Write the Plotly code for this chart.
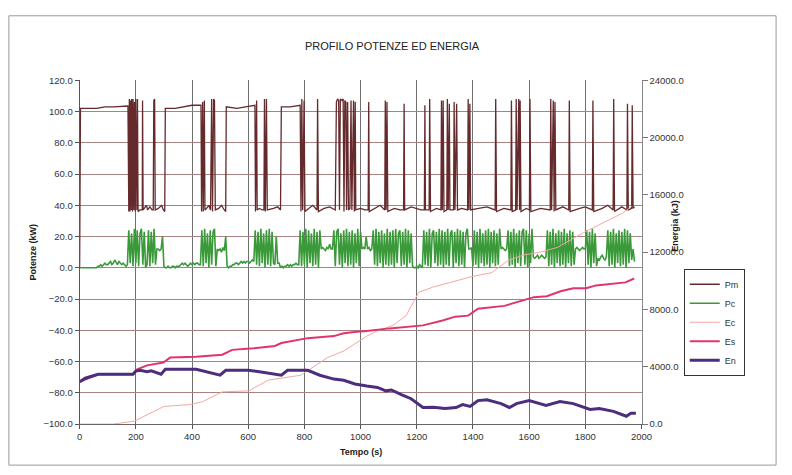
import plotly.graph_objects as go

# ---- Potenza motore Pm (kW): vertici (tempo s, valore) ----
pm_t = [0, 3, 60, 90, 120, 150, 172,
        175, 177, 179, 181, 183, 185, 188, 190, 193, 195, 198, 200, 204, 206, 208,
        215, 223, 224, 226, 230, 238, 242, 250, 258, 262, 264, 267, 269, 280, 292, 298, 303,
        305, 340, 370, 400, 432,
        434, 438, 440, 444, 446, 452, 460, 466, 470, 473, 477, 480, 483, 495, 505, 515, 520,
        522, 560, 590, 620, 624,
        626, 630, 632, 640, 650, 656, 658, 661, 665, 668, 690, 705, 715,
        718, 750, 785,
        788, 791, 794, 799, 802, 815, 830, 845, 847, 850, 870, 890, 910,
        914, 918, 922, 925, 928, 934, 938, 941, 944, 948, 950, 954, 957, 962, 966, 969, 975, 978, 981, 983,
        1000, 1015, 1027, 1029, 1031, 1050, 1070, 1086, 1088, 1091, 1094, 1097, 1120, 1140, 1153, 1155, 1157,
        1180, 1200, 1215, 1227, 1229, 1231, 1244, 1246, 1249, 1270, 1286, 1288, 1291, 1294, 1297,
        1307, 1309, 1312, 1316, 1318, 1331, 1333, 1336, 1342, 1345, 1360, 1381, 1383, 1386, 1389, 1392,
        1420, 1450, 1479, 1481, 1484, 1510, 1535, 1537, 1540, 1552, 1554, 1557, 1563, 1566, 1568, 1571,
        1590, 1601, 1603, 1606, 1640, 1675, 1677, 1680, 1686, 1689, 1692, 1695, 1720, 1741, 1743, 1746,
        1780, 1800, 1825, 1827, 1830, 1860, 1880, 1899, 1901, 1904, 1930, 1948, 1950, 1953, 1965, 1967, 1970, 1975]
pm_v = [0, 102, 102, 103, 103, 103.5, 103.5,
        36, 108, 36, 107, 37, 108, 36, 108, 37, 106, 36, 108, 37, 108, 36,
        37, 37, 107, 37, 38, 40, 37, 39, 37, 37, 107, 108, 37, 38, 40, 37, 36,
        102, 102, 103, 104, 104,
        36, 106, 36, 107, 37, 38, 40, 37, 108, 36, 108, 107, 37, 38, 40, 37, 36,
        103, 102, 103, 104, 104,
        36, 107, 37, 38, 37, 37, 108, 36, 108, 37, 38, 39, 37,
        103, 103, 104,
        36, 108, 37, 107, 36, 38, 40, 37, 108, 36, 38, 39, 37,
        106, 108, 107, 37, 108, 107, 108, 36, 107, 106, 37, 106, 37, 38, 107, 37, 107, 36, 106, 37,
        38, 37, 37, 106, 36, 38, 40, 37, 107, 37, 106, 36, 38, 37, 37, 105, 37,
        39, 38, 37, 37, 104, 37, 37, 108, 36, 38, 37, 107, 37, 107, 36,
        37, 108, 37, 105, 37, 37, 106, 37, 105, 37, 38, 37, 108, 37, 105, 37,
        38, 39, 37, 108, 36, 38, 37, 107, 36, 37, 108, 37, 108, 37, 107, 36,
        38, 37, 108, 36, 38, 37, 108, 37, 107, 36, 106, 37, 39, 37, 107, 36,
        38, 39, 37, 107, 36, 38, 40, 37, 108, 36, 39, 37, 105, 37, 38, 104, 38, 39]

# ---- Potenza Pc (kW), campionata ogni 5 s da t = 0 ----
pc_step = 5
pc_v = [
    0, 0, 0, 0, 0, 0, 0, 0, 0, 0, 0, 0, 0, 1, 1, 2, 1, 2, 3, 2,
    2, 3, 4, 2, 3, 5, 3, 2, 4, 3, 2, 3, 2, 1, 2, 24, 3, 22, 1, 25,
    3, 24, 1, 22, 25, 2, 23, 0, 2, 24, 1, 23, 3, 25, 2, 12, 12, 11, 12, 20,
    1, 0, 0, 1, 0, 0, 1, 1, 0, 1, 1, 1, 2, 3, 2, 3, 2, 1, 2, 3,
    2, 3, 2, 3, 3, 2, 2, 24, 1, 25, 3, 22, 0, 24, 2, 23, 25, 1, 12, 11,
    12, 10, 13, 11, 20, 1, 0, 1, 1, 2, 2, 3, 3, 2, 3, 4, 3, 4, 3, 4,
    4, 3, 4, 5, 4, 24, 2, 23, 1, 25, 3, 22, 0, 24, 2, 25, 1, 23, 3, 2,
    20, 3, 3, 0, 1, 0, 1, 1, 2, 1, 2, 1, 2, 2, 3, 2, 2, 24, 1, 23,
    2, 25, 0, 24, 3, 22, 1, 25, 2, 23, 0, 24, 12, 13, 12, 11, 13, 12, 15, 12,
    12, 24, 1, 23, 25, 2, 22, 0, 24, 3, 25, 1, 23, 2, 24, 0, 22, 3, 25, 1,
    23, 12, 13, 12, 20, 12, 13, 11, 12, 24, 2, 25, 1, 23, 3, 24, 0, 22, 2, 25,
    1, 23, 2, 24, 0, 25, 3, 22, 24, 1, 23, 2, 25, 0, 24, 3, 22, 1, 0, 0,
    1, 0, 2, 1, 0, 24, 2, 23, 1, 25, 0, 22, 24, 3, 23, 1, 25, 2, 24, 0,
    23, 2, 25, 1, 22, 24, 0, 23, 3, 25, 1, 24, 2, 23, 0, 22, 25, 12, 12, 13,
    1, 24, 2, 23, 0, 25, 3, 22, 1, 24, 2, 25, 0, 23, 3, 24, 1, 22, 2, 25,
    12, 13, 12, 11, 12, 24, 1, 23, 2, 25, 0, 22, 3, 24, 1, 23, 25, 2, 24, 0,
    22, 3, 25, 7, 6, 7, 8, 6, 7, 8, 7, 6, 7, 24, 1, 23, 2, 25, 0, 22,
    3, 24, 1, 23, 2, 25, 0, 22, 3, 24, 1, 23, 2, 12, 13, 12, 11, 12, 13, 12,
    12, 24, 2, 23, 0, 25, 3, 22, 1, 6, 5, 7, 8, 6, 5, 7, 24, 1, 23, 2,
    25, 0, 22, 3, 24, 1, 23, 2, 25, 0, 24, 3, 22, 5, 12, 4,
]
pc_t = [i * pc_step for i in range(len(pc_v))]

# ---- Energie (kJ) ----
ec_t = [0, 120, 193, 215, 300, 392, 438, 508, 602, 672, 787, 882, 941, 997, 1022, 1057,
        1116, 1162, 1207, 1256, 1337, 1397, 1467, 1523, 1580, 1640, 1702, 1793, 1877, 1933, 1965]
ec_v = [0, 0, 200, 400, 1230, 1360, 1570, 2250, 2320, 3070, 3410, 4640, 5110, 5860, 6140, 6480,
        6890, 7570, 9200, 9550, 9950, 10300, 10570, 11400, 11800, 12000, 12340, 13360, 14180, 14730, 15200]

es_t = [0, 66, 190, 205, 240, 298, 322, 415, 508, 543, 620, 695, 718, 812, 905, 940, 987, 1022,
        1103, 1222, 1292, 1337, 1383, 1418, 1512, 1572, 1617, 1663, 1712, 1757, 1803, 1838, 1922, 1943, 1974]
es_v = [2950, 3480, 3480, 3820, 4100, 4300, 4640, 4700, 4840, 5180, 5300, 5450, 5660, 6000, 6140, 6340, 6450, 6500,
        6680, 6890, 7230, 7500, 7570, 8050, 8250, 8590, 8860, 8930, 9270, 9480, 9480, 9680, 9820, 9890, 10160]

en_t = [0, 20, 66, 190, 200, 215, 240, 255, 290, 305, 415, 440, 500, 520, 600, 640, 718, 740, 812, 855,
        905, 940, 980, 1022, 1060, 1090, 1110, 1145, 1180, 1222, 1260, 1300, 1340, 1363, 1390, 1418, 1450,
        1500, 1530, 1555, 1600, 1660, 1710, 1757, 1817, 1850, 1900, 1946, 1962, 1980]
en_v = [2950, 3200, 3480, 3480, 3700, 3750, 3650, 3720, 3480, 3820, 3820, 3700, 3410, 3750, 3750, 3650, 3410, 3750, 3750, 3410,
        3140, 3060, 2800, 2660, 2560, 2320, 2380, 2050, 1770, 1160, 1180, 1090, 1150, 1360, 1230, 1640, 1700,
        1430, 1160, 1430, 1640, 1300, 1570, 1430, 1020, 1090, 890, 550, 750, 750]

# ---- assi ----
power_ticks = [-100, -80, -60, -40, -20, 0, 20, 40, 60, 80, 100, 120]
energy_ticks = [0, 4000, 8000, 12000, 16000, 20000, 24000]
time_ticks = [0, 200, 400, 600, 800, 1000, 1200, 1400, 1600, 1800, 2000]

W, H = 792, 475
FONT = "Liberation Sans, Arial, sans-serif"

def px(x):
    return x / W

def py(y):
    return 1 - y / H

def label(text, x, y, size=9, angle=0):
    return dict(text=text, x=px(x), y=py(y), xref="paper", yref="paper",
                xanchor="center", yanchor="middle", showarrow=False, textangle=angle,
                font=dict(family=FONT, size=size, color="#222222"))

fig = go.Figure()
fig.add_trace(go.Scatter(x=pm_t, y=pm_v, name="Pm", mode="lines",
                         line=dict(color="#642a2c", width=1.3)))
fig.add_trace(go.Scatter(x=pc_t, y=pc_v, name="Pc", mode="lines",
                         line=dict(color="#3a9a3a", width=1.6)))
fig.add_trace(go.Scatter(x=ec_t, y=ec_v, name="Ec", mode="lines", yaxis="y2",
                         line=dict(color="#f4a7a0", width=1)))
fig.add_trace(go.Scatter(x=es_t, y=es_v, name="Es", mode="lines", yaxis="y2",
                         line=dict(color="#e3336c", width=2)))
fig.add_trace(go.Scatter(x=en_t, y=en_v, name="En", mode="lines", yaxis="y2",
                         line=dict(color="#4d2d7d", width=3)))

tickfont = dict(family=FONT, size=9.5, color="#333333")
fig.update_layout(
    width=W, height=H,
    margin=dict(l=0, r=0, t=0, b=0),
    paper_bgcolor="white", plot_bgcolor="white",
    showlegend=True,
    legend=dict(x=px(693), y=py(269), xanchor="left", yanchor="top",
                bordercolor="#333333", borderwidth=1, bgcolor="white",
                font=dict(family=FONT, size=9, color="#333333"),
                tracegroupgap=0, itemwidth=30),
    xaxis=dict(domain=[px(78), px(650)], range=[0, 2000], tickvals=time_ticks,
               ticks="outside", ticklen=4, tickcolor="#555", tickfont=tickfont,
               showgrid=True, gridcolor="#6f6f6f", gridwidth=1, zeroline=False,
               showline=True, linecolor="#666", linewidth=1),
    yaxis=dict(domain=[py(428), py(76)], range=[-100, 120], tickvals=power_ticks,
               tickformat=".1f", ticks="outside", ticklen=4, tickcolor="#555",
               tickfont=tickfont, showgrid=True, gridcolor="#a88282", gridwidth=1,
               zeroline=False, showline=True, linecolor="#555", linewidth=1),
    yaxis2=dict(overlaying="y", side="right", anchor="x", range=[0, 24000],
                tickvals=energy_ticks, tickformat=".1f", ticks="outside", ticklen=5,
                tickcolor="#777", tickfont=tickfont, showgrid=False, zeroline=False,
                showline=True, linecolor="#888", linewidth=1),
    annotations=[
        label("PROFILO POTENZE ED ENERGIA", 396, 41, size=11),
        label("<b>Potenze (kW)</b>", 31, 252, angle=-90),
        label("<b>Energia (kJ)</b>", 684, 225, angle=-90),
        label("<b>Tempo (s)</b>", 364, 457),
    ],
    shapes=[
        dict(type="rect", xref="paper", yref="paper", x0=px(6), x1=px(787), y0=py(470), y1=py(10),
             line=dict(color="#9a9a9a", width=1)),
    ],
)

# page without body margin so the 792x475 figure fills the window exactly
fig.write_html("out.html",
               post_script="document.body.style.margin='0';document.body.style.padding='0';"
                           "document.body.style.overflow='hidden';")
